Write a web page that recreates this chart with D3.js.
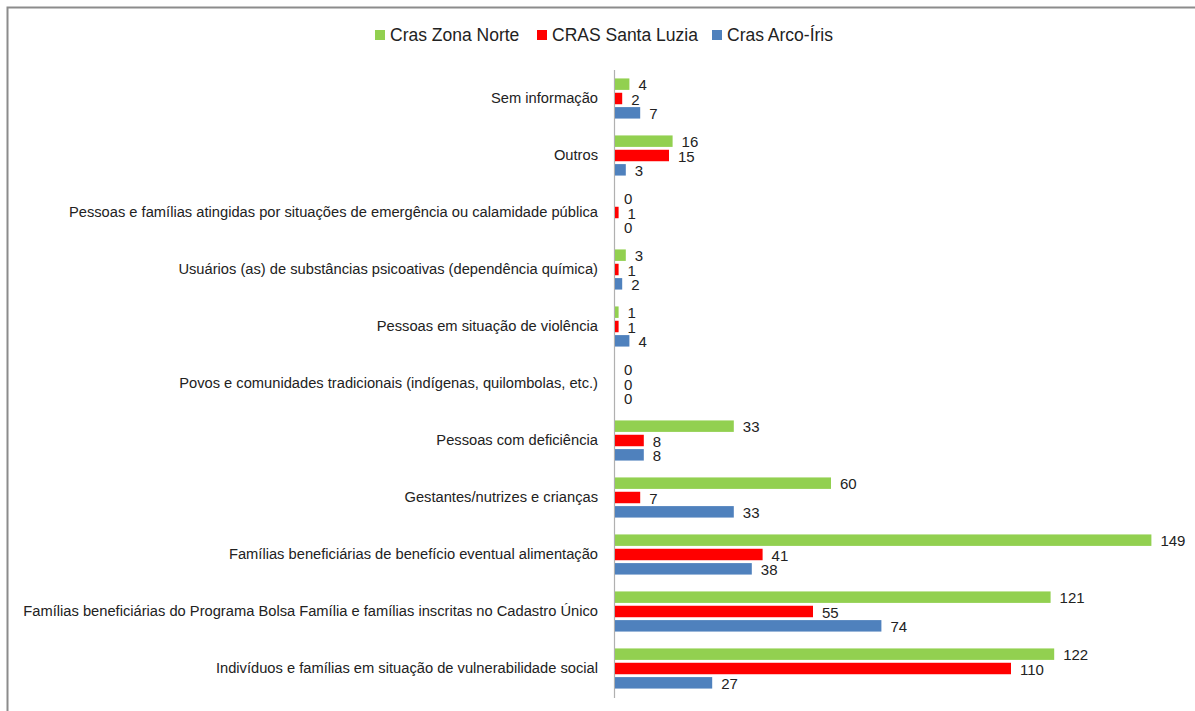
<!DOCTYPE html>
<html><head><meta charset="utf-8">
<script src="https://cdn.jsdelivr.net/npm/d3@7"></script>
<style>
html,body{margin:0;padding:0;background:#fff;}
svg{display:block;font-family:"Liberation Sans Narrow","Arial Narrow",sans-serif;}
</style></head>
<body>
<svg id="c" width="1195" height="711"></svg>
<script>
const categories = [
  "Sem informação",
  "Outros",
  "Pessoas e famílias atingidas por situações de emergência ou calamidade pública",
  "Usuários (as) de substâncias psicoativas (dependência química)",
  "Pessoas em situação de violência",
  "Povos e comunidades tradicionais (indígenas, quilombolas, etc.)",
  "Pessoas com deficiência",
  "Gestantes/nutrizes e crianças",
  "Famílias beneficiárias de benefício eventual alimentação",
  "Famílias beneficiárias do Programa Bolsa Família e famílias inscritas no Cadastro Único",
  "Indivíduos e famílias em situação de vulnerabilidade social"
];
const seriesNames = ["Cras Zona Norte", "CRAS Santa Luzia", "Cras Arco-Íris"];
const zonaNorte   = [4, 16, 0, 3, 1, 0, 33, 60, 149, 121, 122];
const santaLuzia  = [2, 15, 1, 1, 1, 0, 8, 7, 41, 55, 110];
const arcoIris    = [7, 3, 0, 2, 4, 0, 8, 33, 38, 74, 27];
const seriesColors = ["#92D050", "#FF0000", "#4F81BD"];

const seriesValues = [zonaNorte, santaLuzia, arcoIris];
const svg = d3.select("#c");

// chart border (top & left visible)
svg.append("path").attr("d", "M7.5,711 V7.5 H1195")
  .attr("fill", "none").attr("stroke", "#8c8c8c").attr("stroke-width", 2);

const x = d3.scaleLinear().domain([0, 150]).range([614, 1154]);
const y = d3.scaleBand().domain(categories).range([70, 697]).padding(0);
const ySub = d3.scaleBand().domain(seriesNames).range([7, 50]).paddingInner(0.2).paddingOuter(0.1);

// category axis
const axis = d3.axisLeft(y).tickSize(0).tickPadding(16);
const gAxis = svg.append("g").attr("transform", `translate(${x(0)},0)`).call(axis);
gAxis.select(".domain").attr("stroke", "#b0b0b0").attr("stroke-width", 1.2)
  .attr("d", `M0.5,70V698`);
gAxis.selectAll("text").attr("font-size", 14.7).attr("fill", "#222")
  .attr("font-family", "\"Liberation Sans Narrow\",\"Arial Narrow\",sans-serif");

const groups = svg.append("g").selectAll("g").data(categories).join("g")
  .attr("transform", d => `translate(0,${y(d)})`);

seriesNames.forEach((s, si) => {
  groups.append("rect")
    .attr("x", x(0) + 1)
    .attr("y", ySub(s))
    .attr("width", (d, i) => Math.max(0, x(seriesValues[si][i]) - x(0)))
    .attr("height", ySub.bandwidth())
    .attr("fill", seriesColors[si]);
  groups.append("text")
    .attr("x", (d, i) => x(seriesValues[si][i]) + 10)
    .attr("y", ySub(s) + ySub.bandwidth() / 2 + 1)
    .attr("dy", "0.35em")
    .attr("font-size", 15).attr("fill", "#222")
    .text((d, i) => seriesValues[si][i]);
});

// legend
const legendX = [375, 537, 712];
const lg = svg.append("g").selectAll("g").data(seriesNames).join("g")
  .attr("transform", (d, i) => `translate(${legendX[i]},30)`);
lg.append("rect").attr("width", 10).attr("height", 10).attr("fill", (d, i) => seriesColors[i]);
lg.append("text").attr("x", 15).attr("y", 5).attr("dy", "0.35em")
  .attr("font-size", 17.5).attr("fill", "#222").text(d => d);
</script>
</body></html>
